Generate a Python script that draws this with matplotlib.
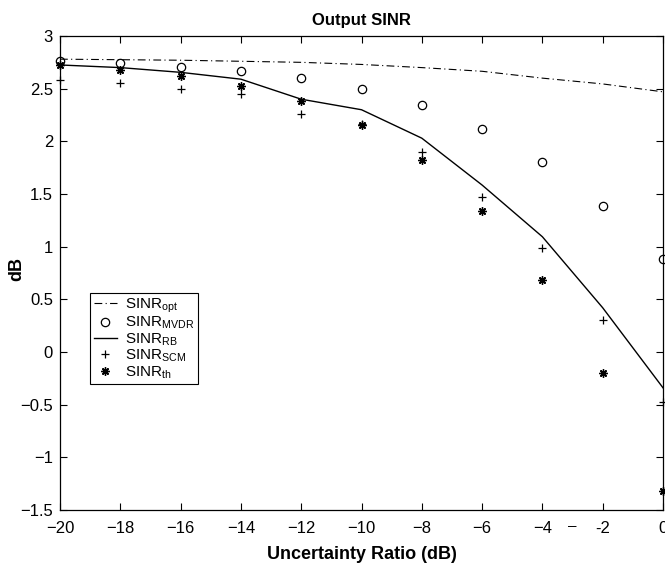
import matplotlib
matplotlib.use("Agg")
import matplotlib.pyplot as plt
import numpy as np

plt.rcParams['font.family'] = ['Liberation Sans', 'DejaVu Sans']
plt.rcParams['mathtext.fontset'] = 'custom'
plt.rcParams['mathtext.rm'] = 'Liberation Sans'
plt.rcParams['mathtext.it'] = 'Liberation Sans:italic'

# uncertainty ratio (dB)
ratio = [-20, -18, -16, -14, -12, -10, -8, -6, -4, -2, 0]

sinr_opt = [2.78, 2.775, 2.77, 2.76, 2.75, 2.73, 2.70, 2.665, 2.60, 2.545, 2.47]
sinr_mvdr = [2.76, 2.74, 2.71, 2.67, 2.60, 2.50, 2.345, 2.12, 1.80, 1.39, 0.88]
sinr_rb = [2.725, 2.70, 2.655, 2.59, 2.40, 2.30, 2.03, 1.585, 1.094, 0.42, -0.34]
sinr_scm = [2.58, 2.55, 2.50, 2.45, 2.26, 2.16, 1.90, 1.47, 0.99, 0.30, -0.47]
sinr_th = [2.725, 2.68, 2.62, 2.525, 2.38, 2.155, 1.82, 1.34, 0.68, -0.20, -1.32]

xtick_labels = ['\u221220', '\u221218', '\u221216', '\u221214', '\u221212',
                '\u221210', '\u22128', '\u22126', '\u22124', '-2', '0']
ytick_labels = ['\u22121.5', '\u22121', '\u22120.5', '0', '0.5', '1', '1.5',
                '2', '2.5', '3']

fig = plt.figure(figsize=(6.65, 5.65), dpi=100, facecolor='white')
ax = fig.add_axes([60/665, 55/565, 603/665, 474/565])

star = (8, 2, 0)
ax.plot(ratio, sinr_opt, color='black', linestyle='-.', linewidth=0.8,
        dashes=(7, 3, 1, 3), label=r'SINR$_{\rm opt}$')
ax.plot(ratio, sinr_mvdr, linestyle='none', marker='o', markersize=6,
        markerfacecolor='none', markeredgecolor='black', markeredgewidth=0.9,
        clip_on=False, label=r'SINR$_{\rm MVDR}$')
ax.plot(ratio, sinr_rb, color='black', linestyle='-', linewidth=1.0,
        label=r'SINR$_{\rm RB}$')
ax.plot(ratio, sinr_scm, linestyle='none', marker='+', markersize=6,
        markeredgecolor='black', markeredgewidth=0.9, clip_on=False,
        label=r'SINR$_{\rm SCM}$')
ax.plot(ratio, sinr_th, linestyle='none', marker=star, markersize=6,
        markeredgecolor='black', markeredgewidth=1.0, clip_on=False,
        label=r'SINR$_{\rm th}$')

ax.set_xlim(-20, 0)
ax.set_ylim(-1.5, 3)
ax.set_xticks(np.arange(-20, 1, 2))
ax.set_yticks(np.arange(-1.5, 3.01, 0.5))
ax.set_xticklabels(xtick_labels)
ax.set_yticklabels(ytick_labels)
ax.tick_params(direction='in', top=True, right=True, length=5, width=0.8,
               labelsize=12)
ax.tick_params(axis='x', pad=8)
ax.tick_params(axis='y', pad=5)
for sp in ax.spines.values():
    sp.set_linewidth(0.9)

ax.set_title('Output SINR', fontsize=12, fontweight='bold', pad=8)
ax.set_xlabel('Uncertainty Ratio (dB)', fontsize=13, fontweight='bold', labelpad=7)
ax.set_ylabel('dB', fontsize=13, fontweight='bold')
ax.yaxis.set_label_coords(-0.058, 0.508)

# stray dash next to the -2 tick label in the original
ax.text(-3.0, -1.655, '\u2013', ha='center', va='center', fontsize=11, clip_on=False)

leg = ax.legend(loc='upper left', bbox_to_anchor=(0.05, 0.458), fontsize=11,
                frameon=True, fancybox=False, framealpha=1, edgecolor='black',
                handlelength=1.5, handletextpad=0.5, labelspacing=0.0,
                borderpad=0.25, borderaxespad=0)
leg.get_frame().set_linewidth(0.8)

fig.savefig('out.png', dpi=100)
